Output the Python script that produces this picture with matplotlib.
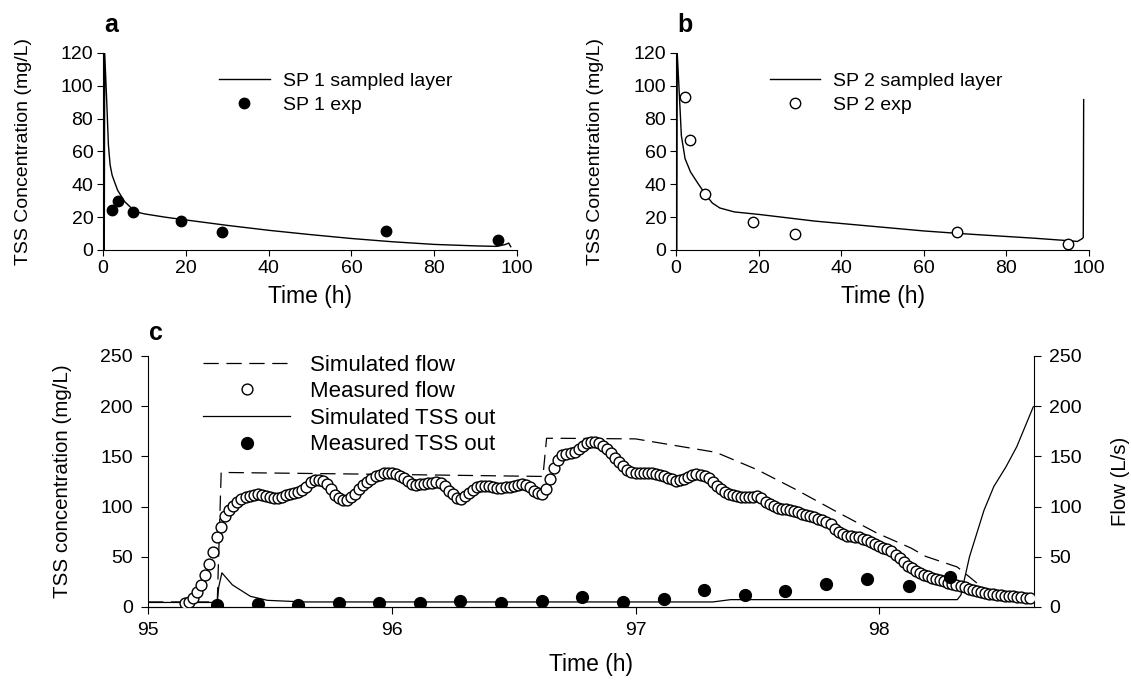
import matplotlib
matplotlib.use("Agg")
import matplotlib.pyplot as plt
import numpy as np

plt.rcParams['font.family'] = ['Liberation Sans', 'DejaVu Sans']
plt.rcParams['lines.scale_dashes'] = False

# ---- panel a: SP 1 ----
a_sim_t = [0.3, 0.4, 0.9, 1.3, 1.7, 2.2, 3.5, 5.2, 7, 8.7, 10, 15, 20, 30, 40, 50, 60, 70, 80, 90, 95, 97, 98, 98.5]
a_sim_v = [0, 120, 90, 64, 52, 45.5, 36.5, 29.5, 25.2, 22.8, 22, 20, 18.3, 15, 12, 9.4, 7, 5, 3.4, 2.5, 2.2, 3.2, 4.2, 2.0]
a_exp_t = [2.2, 3.7, 7.2, 18.9, 28.8, 68.3, 95.3]
a_exp_v = [24.6, 29.6, 23, 17.6, 11, 11.6, 6]

# ---- panel b: SP 2 ----
b_sim_t = [0.2, 0.3, 0.8, 1.3, 2.2, 3.5, 5.3, 7.1, 8.8, 10.6, 14.1, 20.3, 33.6, 46.8, 60, 68.9, 77.7, 86.6, 95.4, 97.2, 98.4, 98.6, 98.7]
b_sim_v = [0, 120, 95, 69.6, 55.6, 47.6, 40.6, 34, 28.6, 25.6, 23.2, 21.6, 17.6, 14.6, 11.6, 10, 8.6, 7.2, 5.6, 5.2, 7.0, 7.6, 91.6]
b_exp_t = [2.2, 3.5, 7.1, 18.6, 28.7, 68, 94.8]
b_exp_v = [93, 67, 34.2, 17, 10, 11.2, 3.6]

# ---- panel c: outlet ----
flow_sim_t = [95.0, 95.284, 95.30, 96.0, 96.62, 96.635, 96.69, 97.0, 97.33, 97.5, 97.66, 97.81, 97.99, 98.13, 98.19, 98.32, 98.40]
flow_sim_v = [5, 5, 134, 132, 130, 168, 168, 167.4, 154, 136.6, 116.7, 96.8, 73.6, 58.7, 50.4, 39.8, 23.9]

# measured flow, one reading per minute from 95.15 h
flow_start = 95.15
flow_meas = [
    4, 5, 9, 14.5, 21.5, 32, 43, 55, 69.5, 80,
    91, 97, 101, 104.5, 107.5, 109.5, 111, 112, 112.4, 111.5,
    110.5, 109.3, 108.5, 108.6, 109.4, 111.3, 112.8, 113.8, 114.7, 116.3,
    119.5, 124, 126.3, 126.7, 125, 122, 117, 112, 108.7, 107,
    106.3, 109.5, 113, 117, 121, 124.7, 127.5, 130, 131.8, 133,
    133.8, 133.8, 132.8, 130.5, 128, 125, 122.8, 121.8, 122, 122.8,
    123.3, 123.6, 124, 123.3, 120, 116, 112.3, 109, 107.4, 110.5,
    113.8, 116.8, 119.2, 120.3, 120.7, 120.6, 119.8, 118.8, 118.5, 119,
    119.5, 120, 121.5, 122.2, 121, 119, 116, 113.8, 113, 117,
    127, 138, 146.5, 151.2, 152.5, 153.2, 154.5, 157, 160.3, 163,
    164.8, 164.8, 163.5, 160.5, 157.5, 153, 148.5, 144.5, 140, 136.5,
    134.5, 133.6, 133.3, 133.3, 133.4, 133.5, 132.8, 131.8, 130.8, 128.8,
    127, 125.6, 126, 127.3, 129.5, 131.5, 132.3, 131.5, 130.3, 128,
    124, 120.5, 117.5, 115, 112.8, 111.3, 110.3, 109.8, 109.5, 109.4,
    110, 110.7, 108.5, 105, 102.5, 100.5, 98.8, 98, 97.3, 96.7,
    95.5, 94.2, 93, 91.8, 90.6, 89.5, 88, 86.9, 85, 82.5,
    78, 74.3, 72.3, 70.8, 70.2, 69.8, 69.5, 68, 66.3, 64.5,
    62.6, 61, 59, 57.3, 55.5, 52, 48.3, 44.5, 41.3, 38.8,
    36.3, 34.2, 32.3, 30.5, 29.3, 28.1, 27, 25.4, 24.3, 23.2,
    22, 20.7, 19.5, 18.2, 17, 15.8, 14.5, 13.7, 13.2, 12.8,
    12.3, 11.9, 11.4, 11, 10.6, 10.2, 9.8, 9.4, 9,
]
flow_meas_t = flow_start + np.arange(len(flow_meas)) / 60.0

tss_sim_t = [95.0, 95.284, 95.29, 95.303, 95.346, 95.42, 95.49, 95.64, 96.5, 97.317, 97.39, 98.32, 98.335, 98.37, 98.43, 98.47, 98.52, 98.564, 98.632]
tss_sim_v = [4.5, 4.5, 20, 34, 22, 10.6, 6.6, 5, 5, 5, 7.3, 7.3, 12, 50, 96.6, 120, 139.7, 159.6, 199.5]

tss_meas_t = [95.283, 95.45, 95.615, 95.782, 95.948, 96.115, 96.28, 96.447, 96.615, 96.782,
              96.948, 97.115, 97.28, 97.45, 97.614, 97.78, 97.95, 98.12, 98.29]
tss_meas_v = [2, 3, 2, 3.5, 3.5, 4.3, 6, 4, 5.5, 10, 4.6, 7.7, 17, 12, 15.5, 23, 28, 20.5, 30]

TICK = 14
YLAB = 14
XLAB = 16.5

fig = plt.figure(figsize=(11.31, 6.81), dpi=100)


def style_top(ax):
    ax.spines['top'].set_visible(False)
    ax.spines['right'].set_visible(False)
    ax.set_xlim(0, 100)
    ax.set_ylim(0, 120)
    ax.set_xticks(range(0, 101, 20))
    ax.set_yticks(range(0, 121, 20))
    ax.tick_params(direction='out', length=4, width=0.8, labelsize=TICK, pad=3)
    ax.set_xlabel('Time (h)', fontsize=XLAB, labelpad=6)
    ax.set_ylabel('TSS Concentration (mg/L)', fontsize=YLAB, labelpad=21)


axa = fig.add_axes([0.0911, 0.6329, 0.366, 0.2893])
axa.plot(a_sim_t, a_sim_v, color='black', lw=1.0, label='SP 1 sampled layer')
axa.plot(a_exp_t, a_exp_v, 'o', color='black', ms=7.5, label='SP 1 exp')
style_top(axa)
axa.legend(loc='upper left', bbox_to_anchor=(0.238, 0.99), frameon=False, fontsize=14,
           handlelength=2.6, handletextpad=0.67, labelspacing=0.3)
fig.text(104 / 1131, 1 - 25 / 681, 'a', fontsize=18, fontweight='bold', va='center', ha='left')

axb = fig.add_axes([0.5977, 0.6329, 0.3652, 0.2893])
axb.plot(b_sim_t, b_sim_v, color='black', lw=1.0, label='SP 2 sampled layer')
axb.plot(b_exp_t, b_exp_v, 'o', mfc='white', mec='black', mew=1.0, ms=7.5, label='SP 2 exp')
style_top(axb)
axb.legend(loc='upper left', bbox_to_anchor=(0.185, 0.99), frameon=False, fontsize=14,
           handlelength=2.6, handletextpad=0.67, labelspacing=0.3)
fig.text(677 / 1131, 1 - 25 / 681, 'b', fontsize=18, fontweight='bold', va='center', ha='left')

axc = fig.add_axes([0.1309, 0.1087, 0.7834, 0.3686])
axr = axc.twinx()
axc.set_zorder(axr.get_zorder() + 1)
axc.patch.set_visible(False)

h1, = axr.plot(flow_sim_t, flow_sim_v, color='black', lw=0.9, dashes=(11, 5.5), label='Simulated flow')
h2, = axc.plot(flow_meas_t, flow_meas, 'o', mfc='white', mec='black', mew=1.0, ms=7.8,
               label='Measured flow', zorder=3)
h3, = axc.plot(tss_sim_t, tss_sim_v, color='black', lw=0.9, label='Simulated TSS out', zorder=2)
h4, = axc.plot(tss_meas_t, tss_meas_v, 'o', color='black', ms=8.5, label='Measured TSS out', zorder=4)

for a in (axc, axr):
    a.set_xlim(95, 98.635)
    a.set_ylim(0, 250)
    a.spines['top'].set_visible(False)
axc.spines['right'].set_visible(False)
axr.spines['left'].set_visible(False)
axc.set_xticks([95, 96, 97, 98])
axc.set_yticks(range(0, 251, 50))
axr.set_yticks(range(0, 251, 50))
axc.tick_params(direction='out', length=5, width=0.8, labelsize=TICK, pad=6)
axr.tick_params(direction='out', length=5, width=0.8, labelsize=TICK, pad=6)
axc.set_xlabel('Time (h)', fontsize=XLAB, labelpad=10)
axc.set_ylabel('TSS concentration (mg/L)', fontsize=14.8, labelpad=20)
axr.set_ylabel('Flow (L/s)', fontsize=14.7, labelpad=21)
axc.legend(handles=[h1, h2, h3, h4], loc='upper left', bbox_to_anchor=(0.04, 1.085), frameon=False,
           fontsize=16, handlelength=3.9, handletextpad=0.9, labelspacing=0.25)
fig.text(149 / 1131, 1 - 333 / 681, 'c', fontsize=18, fontweight='bold', va='center', ha='left')

fig.savefig('out.png', dpi=100)
